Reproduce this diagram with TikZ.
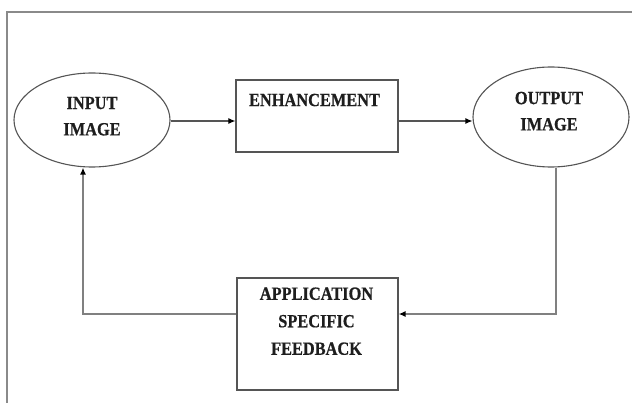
\documentclass[tikz,border=0pt]{standalone}
\usepackage{fontspec}
\newfontfamily\diafont[FakeStretch=0.88,FakeBold=0.6]{Liberation Serif}
\usetikzlibrary{arrows.meta,shapes.geometric}
\definecolor{edgegray}{HTML}{555555}
\definecolor{framegray}{HTML}{8A8A8A}
\definecolor{txtgray}{HTML}{1E1E1E}
\tikzset{
  oval/.style={draw=edgegray, line width=1.1pt, ellipse, inner sep=0pt},
  blockbox/.style={draw=edgegray, line width=1.2pt, rectangle, inner sep=0pt},
  lbl/.style={text=txtgray, align=center, inner sep=0pt,
    font=\diafont\bfseries\fontsize{18.6}{26.3}\selectfont},
  lblwide/.style={lbl, font=\diafont\bfseries\fontsize{18.6}{27.5}\selectfont},
  tip/.style={-{Latex[length=7pt,width=6pt,fill=black,color=black]}},
  flow/.style={draw=edgegray, line width=1.1pt, tip},
  loopline/.style={draw=gray, line width=1.6pt, tip},
}
\begin{document}
\begin{tikzpicture}[x=1pt,y=-1pt]
\useasboundingbox[fill=white] (0,0) rectangle (636,403);
% frame
\draw[framegray, line width=1.6pt] (7,403) -- (7,12) -- (632,12);
% shapes
\node[oval, minimum width=156pt, minimum height=94pt] (in) at (92,120) {};
\node[oval, minimum width=156pt, minimum height=100pt] (out) at (551,117) {};
\node[blockbox, minimum width=162pt, minimum height=72pt] (enh) at (317,116) {};
\node[blockbox, minimum width=161pt, minimum height=112pt] (fb) at (317.5,334) {};
% texts
\node[lbl] (tin) at (92,116.2) {INPUT\\IMAGE};
\node[lbl] (tout) at (549,111.2) {OUTPUT\\IMAGE};
\node[lbl] (tenh) at (314.5,100) {ENHANCEMENT};
\node[lblwide] (tfb) at (316.5,321.2) {APPLICATION\\SPECIFIC\\FEEDBACK};
% connectors
\coordinate (cr) at (556,314);
\coordinate (cl) at (83,314);
\draw[flow] (in.east |- 0,121) -- (enh.west |- 0,121);
\draw[flow] (enh.east |- 0,121) -- (out.west |- 0,121);
\draw[loopline] (out.south -| cr) -- (cr) -- (fb.east |- cr);
\draw[loopline] (fb.west |- cl) -- (cl) -- (in.south -| cl);
\end{tikzpicture}
\end{document}
